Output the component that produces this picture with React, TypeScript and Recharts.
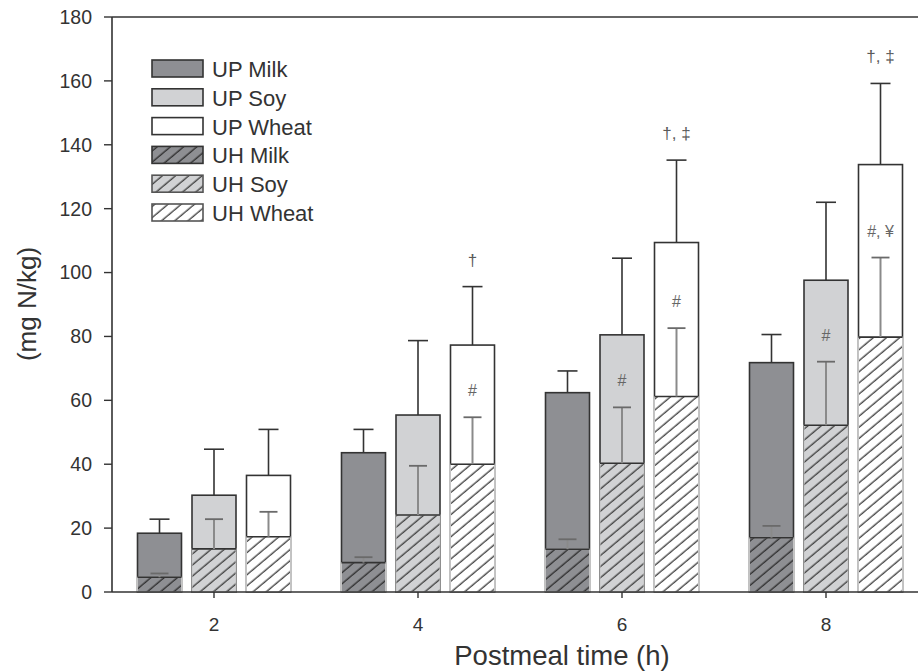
import { BarChart, Bar, XAxis, YAxis, ReferenceLine, Legend } from 'recharts'

const times = ['2', '4', '6', '8']

// UP = total (urine + plasma), UH = hatched part, mg N/kg
const upMilk = [18.4, 43.6, 62.4, 71.8]
const upMilkErr = [4.4, 7.3, 6.8, 8.8]
const upSoy = [30.3, 55.4, 80.5, 97.6]
const upSoyErr = [14.4, 23.3, 24.0, 24.4]
const upWheat = [36.5, 77.3, 109.4, 133.8]
const upWheatErr = [14.4, 18.3, 25.8, 25.4]

const uhMilk = [4.6, 9.2, 13.4, 17.0]
const uhMilkErr = [1.2, 1.7, 3.1, 3.7]
const uhSoy = [13.5, 24.1, 40.3, 52.2]
const uhSoyErr = [9.3, 15.4, 17.5, 19.9]
const uhWheat = [17.3, 40.0, 61.2, 79.8]
const uhWheatErr = [7.8, 14.7, 21.4, 24.9]

const upWheatMarks = ['', '†', '†, ‡', '†, ‡']
const uhSoyMarks = ['', '', '#', '#']
const uhWheatMarks = ['', '#', '#', '#, ¥']

const yTicks = [0, 20, 40, 60, 80, 100, 120, 140, 160, 180]

const data = times.map((t, i) => ({
  time: t,
  upMilk: upMilk[i], upSoy: upSoy[i], upWheat: upWheat[i],
  uhMilk: uhMilk[i], uhSoy: uhSoy[i], uhWheat: uhWheat[i],
}))

const FONT = '"Liberation Sans", Arial, sans-serif'
const INK = '#333'
const MILK = '#8e8f93'
const SOY = '#d1d2d4'

function upShape(key: string, fill: string, errs: number[], marks?: string[]) {
  return (props: any) => {
    const { x, y, width, height, index, payload } = props
    const ppu = height / payload[key]
    const top = y - errs[index] * ppu
    const cx = x + width / 2
    return (
      <g>
        <line x1={cx} x2={cx} y1={y} y2={top} stroke={INK} strokeWidth={1.6} />
        <line x1={cx - 10} x2={cx + 10} y1={top} y2={top} stroke={INK} strokeWidth={1.6} />
        <rect x={x} y={y} width={width} height={height} fill={fill} stroke={INK} strokeWidth={1.6} />
        {marks && marks[index] && (
          <text x={cx} y={top - 21} textAnchor="middle" fontSize={17} fill="#5a5a5a" fontFamily={FONT}>{marks[index]}</text>
        )}
      </g>
    )
  }
}

function uhShape(key: string, pattern: string, errs: number[], marks?: string[]) {
  return (props: any) => {
    const { x, y, width, height, index, payload } = props
    const ppu = height / payload[key]
    const top = y - errs[index] * ppu
    const cx = x + width / 2
    return (
      <g>
        <rect x={x} y={y} width={width} height={height} fill={`url(#${pattern})`} stroke="#c4c4c4" strokeWidth={1} />
        <line x1={x} x2={x + width} y1={y} y2={y} stroke={INK} strokeWidth={1.6} />
        <line x1={cx} x2={cx} y1={y} y2={top} stroke="#8a8a8a" strokeWidth={2} />
        <line x1={cx - 9} x2={cx + 9} y1={top} y2={top} stroke="#6a6a6a" strokeWidth={1.8} />
        {marks && marks[index] && (
          <text x={cx} y={top - 21} textAnchor="middle" fontSize={16} fill="#666" fontFamily={FONT}>{marks[index]}</text>
        )}
      </g>
    )
  }
}

function Hatch({ id, bg, line }: { id: string; bg: string; line: string }) {
  return (
    <pattern id={id} patternUnits="userSpaceOnUse" width={8.5} height={8.5} patternTransform="rotate(50)">
      <rect width={8.5} height={8.5} fill={bg} />
      <line x1={4} y1={0} x2={4} y2={8.5} stroke={line} strokeWidth={1.3} />
    </pattern>
  )
}

const legendRows = [
  { label: 'UP Milk', fill: MILK, stroke: INK },
  { label: 'UP Soy', fill: SOY, stroke: INK },
  { label: 'UP Wheat', fill: '#fff', stroke: INK },
  { label: 'UH Milk', fill: 'url(#lgMilk)', stroke: INK },
  { label: 'UH Soy', fill: 'url(#lgSoy)', stroke: '#555' },
  { label: 'UH Wheat', fill: 'url(#lgWheat)', stroke: '#555' },
]

function LegendBox() {
  return (
    <svg width={200} height={180}>
      <defs>
        <Hatch id="lgMilk" bg={MILK} line="#2a2a2a" />
        <Hatch id="lgSoy" bg={SOY} line="#3a3a3a" />
        <Hatch id="lgWheat" bg="#fff" line="#3a3a3a" />
      </defs>
      {legendRows.map((r, i) => (
        <g key={r.label}>
          <rect x={1} y={2 + i * 28.8} width={51} height={17} fill={r.fill} stroke={r.stroke} strokeWidth={1.6} />
          <text x={61} y={19 + i * 28.8} fontSize={22} fill={INK} fontFamily={FONT}>{r.label}</text>
        </g>
      ))}
    </svg>
  )
}

export default function App() {
  return (
    <div style={{ position: 'absolute', left: 0, top: 0, width: 918, height: 672, overflow: 'hidden', background: '#fff' }}>
      <BarChart
        width={940}
        height={672}
        data={data}
        margin={{ top: 17, right: 12, left: 0, bottom: 20 }}
        barCategoryGap={25.5}
        barGap={10.5}
      >
        <defs>
          <Hatch id="hMilk" bg={MILK} line="#2a2a2a" />
          <Hatch id="hSoy" bg={SOY} line="#3a3a3a" />
          <Hatch id="hWheat" bg="#fff" line="#3a3a3a" />
        </defs>
        <XAxis xAxisId="uh" dataKey="time" hide height={0} />
        <XAxis
          xAxisId="up"
          dataKey="time"
          height={60}
          axisLine={{ stroke: INK, strokeWidth: 1.6 }}
          tickLine={{ stroke: INK, strokeWidth: 1.4 }}
          tickSize={6}
          tickMargin={20}
          tick={{ fill: INK, fontSize: 19, fontFamily: FONT }}
          label={{
            content: () => (
              <text x={562} y={665} textAnchor="middle" fontSize={27.5} fill={INK} fontFamily={FONT}>Postmeal time (h)</text>
            ),
          }}
        />
        <YAxis
          width={112}
          domain={[0, 180]}
          ticks={yTicks}
          interval={0}
          axisLine={{ stroke: INK, strokeWidth: 1.6 }}
          tickLine={{ stroke: INK, strokeWidth: 1.4 }}
          tickSize={8}
          tickMargin={12}
          tick={{ fill: INK, fontSize: 19.5, fontFamily: FONT }}
          label={{
            content: () => (
              <text x={27} y={304} transform="rotate(-90 27 304)" textAnchor="middle" dominantBaseline="central" fontSize={26} fill={INK} fontFamily={FONT}>(mg N/kg)</text>
            ),
          }}
        />
        <ReferenceLine xAxisId="up" y={180} stroke={INK} strokeWidth={1.6} />
        <Legend
          layout="vertical"
          align="center"
          verticalAlign="middle"
          wrapperStyle={{ left: 151, top: 58, width: 200 }}
          content={() => <LegendBox />}
        />
        <Bar xAxisId="up" dataKey="upMilk" isAnimationActive={false} shape={upShape('upMilk', MILK, upMilkErr)} />
        <Bar xAxisId="up" dataKey="upSoy" isAnimationActive={false} shape={upShape('upSoy', SOY, upSoyErr)} />
        <Bar xAxisId="up" dataKey="upWheat" isAnimationActive={false} shape={upShape('upWheat', '#fff', upWheatErr, upWheatMarks)} />
        <Bar xAxisId="uh" dataKey="uhMilk" isAnimationActive={false} shape={uhShape('uhMilk', 'hMilk', uhMilkErr)} />
        <Bar xAxisId="uh" dataKey="uhSoy" isAnimationActive={false} shape={uhShape('uhSoy', 'hSoy', uhSoyErr, uhSoyMarks)} />
        <Bar xAxisId="uh" dataKey="uhWheat" isAnimationActive={false} shape={uhShape('uhWheat', 'hWheat', uhWheatErr, uhWheatMarks)} />
      </BarChart>
    </div>
  )
}
